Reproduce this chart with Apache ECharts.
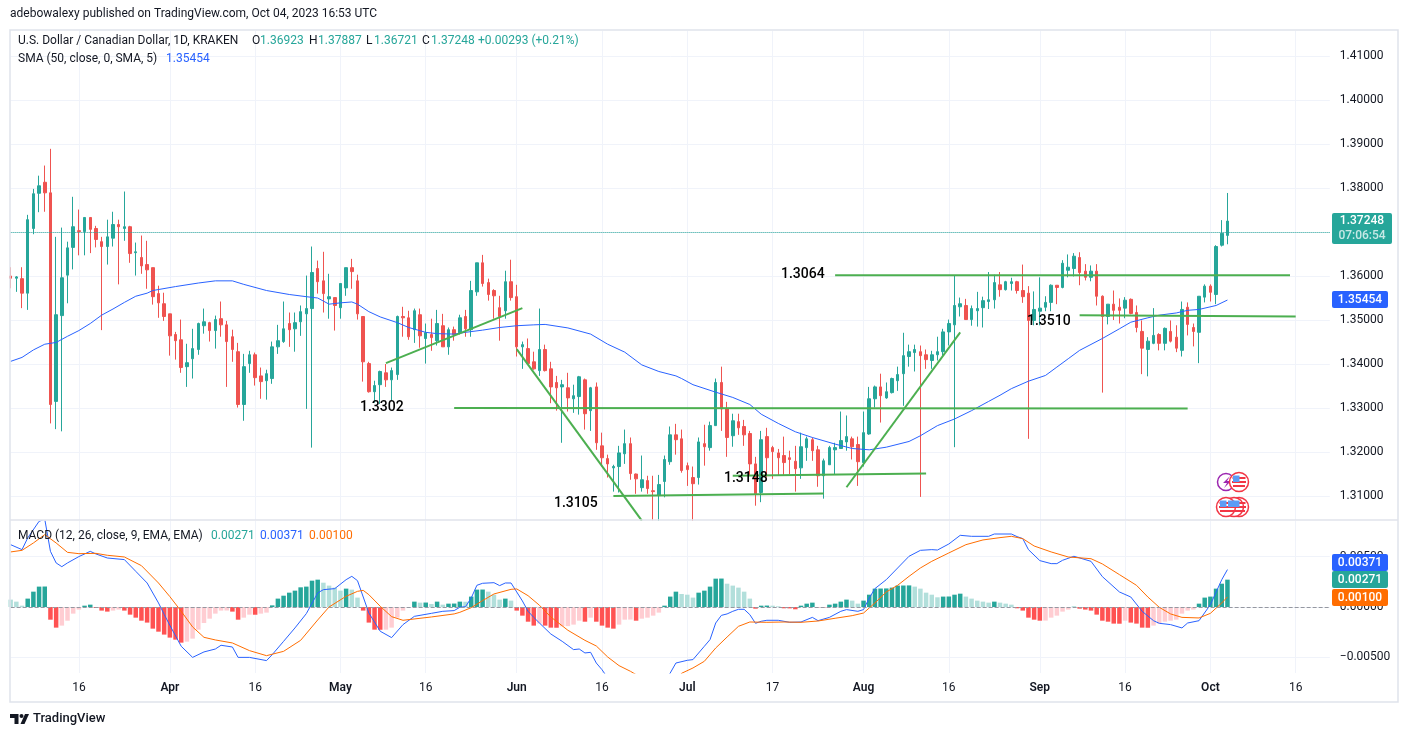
<!DOCTYPE html>
<html>
<head>
<meta charset="utf-8">
<title>USD/CAD</title>
<script src="https://cdn.jsdelivr.net/npm/echarts@6/dist/echarts.min.js"></script>
<style>
  html, body { margin: 0; padding: 0; background: #fff; }
  #myChart { width: 1408px; height: 737px; }
</style>
</head>
<body>
<div id="myChart"></div>
<script>
// daily candles
const opens = [
  1.36, 1.3595, 1.3594, 1.3561, 1.3708, 1.3788, 1.3813, 1.3789, 1.3315, 1.351,
  1.3602, 1.3665, 1.3703, 1.3701, 1.3733, 1.3708, 1.3678, 1.3667, 1.3686, 1.3717,
  1.3708, 1.3712, 1.3653, 1.3642, 1.3626, 1.3619, 1.356, 1.3537, 1.3514, 1.3467,
  1.3455, 1.3394, 1.3412, 1.3433, 1.3487, 1.3494, 1.3476, 1.3503, 1.3489, 1.3462,
  1.3428, 1.3308, 1.3401, 1.3421, 1.3373, 1.3362, 1.3367, 1.3439, 1.3451, 1.3492,
  1.348, 1.3496, 1.3514, 1.3526, 1.3617, 1.3589, 1.3548, 1.3551, 1.3528, 1.3573,
  1.3619, 1.3589, 1.3508, 1.3401, 1.3337, 1.3353, 1.338, 1.3364, 1.3376, 1.3508,
  1.3505, 1.3478, 1.3512, 1.3458, 1.3467, 1.3453, 1.3487, 1.3439, 1.3478, 1.3471,
  1.3508, 1.3478, 1.3564, 1.363, 1.3585, 1.3567, 1.3528, 1.3521, 1.3587, 1.3553,
  1.3439, 1.3435, 1.3405, 1.3385, 1.3433, 1.3389, 1.3358, 1.3348, 1.3346, 1.3321,
  1.3326, 1.3364, 1.3294, 1.3348, 1.3214, 1.3185, 1.3164, 1.3167, 1.3196, 1.3219,
  1.315, 1.3119, 1.3135, 1.3112, 1.3101, 1.3133, 1.3178, 1.3239, 1.323, 1.3169,
  1.3142, 1.3142, 1.3219, 1.321, 1.326, 1.3358, 1.3298, 1.3237, 1.3269, 1.3258,
  1.3242, 1.3173, 1.3108, 1.3235, 1.321, 1.3198, 1.3192, 1.3187, 1.3179, 1.3164,
  1.321, 1.3228, 1.3205, 1.3146, 1.3171, 1.3205, 1.3208, 1.3223, 1.323, 1.3217,
  1.3176, 1.3241, 1.3321, 1.3348, 1.3323, 1.3335, 1.3362, 1.3378, 1.3417, 1.3426,
  1.3428, 1.3421, 1.3408, 1.3421, 1.3428, 1.3473, 1.3489, 1.353, 1.3533, 1.3501,
  1.3521, 1.3528, 1.3542, 1.3546, 1.358, 1.3569, 1.3583, 1.3587, 1.3567, 1.3561,
  1.3499, 1.352, 1.3529, 1.354, 1.3579, 1.3574, 1.3613, 1.3617, 1.3642, 1.3611,
  1.3597, 1.3611, 1.3554, 1.3508, 1.3536, 1.3529, 1.3527, 1.3547, 1.3517, 1.3474,
  1.3433, 1.3447, 1.3467, 1.3447, 1.3474, 1.3461, 1.3431, 1.3529, 1.3483, 1.3472,
  1.3552, 1.3577, 1.3558, 1.367, 1.36923
];
const closes = [
  1.3595, 1.3598, 1.3561, 1.3728, 1.3787, 1.3805, 1.3789, 1.3308, 1.3512, 1.3596,
  1.3664, 1.3712, 1.3701, 1.3733, 1.3706, 1.3683, 1.3667, 1.3689, 1.3717, 1.3712,
  1.3712, 1.3651, 1.3655, 1.3623, 1.3614, 1.3553, 1.3539, 1.3508, 1.3464, 1.3453,
  1.3392, 1.3403, 1.3435, 1.3492, 1.3496, 1.3476, 1.3501, 1.3489, 1.3451, 1.3433,
  1.3308, 1.3394, 1.3421, 1.3369, 1.336, 1.3378, 1.3439, 1.3453, 1.348, 1.3478,
  1.3494, 1.3519, 1.3526, 1.3608, 1.3587, 1.356, 1.3553, 1.3533, 1.3583, 1.3619,
  1.361, 1.3514, 1.3405, 1.3337, 1.3351, 1.3383, 1.3364, 1.3385, 1.3508, 1.3505,
  1.3462, 1.3521, 1.3464, 1.3471, 1.346, 1.3492, 1.3439, 1.3478, 1.3467, 1.3505,
  1.348, 1.3567, 1.363, 1.3583, 1.3558, 1.3555, 1.3508, 1.3587, 1.3551, 1.3439,
  1.3444, 1.3401, 1.3389, 1.3433, 1.3385, 1.3348, 1.3346, 1.3353, 1.3323, 1.3328,
  1.3371, 1.3287, 1.3346, 1.3221, 1.3187, 1.3173, 1.3167, 1.3198, 1.3219, 1.3151,
  1.3139, 1.3137, 1.3117, 1.311, 1.3126, 1.3183, 1.3239, 1.3228, 1.3158, 1.316,
  1.3128, 1.3223, 1.3212, 1.326, 1.3358, 1.3298, 1.3233, 1.3271, 1.3255, 1.3239,
  1.3173, 1.3105, 1.3228, 1.3187, 1.3201, 1.3187, 1.3176, 1.3183, 1.3162, 1.3212,
  1.323, 1.3203, 1.3146, 1.318, 1.321, 1.321, 1.3226, 1.3235, 1.3212, 1.3178,
  1.3244, 1.3321, 1.3348, 1.3328, 1.3337, 1.3367, 1.3376, 1.3419, 1.3428, 1.3433,
  1.3419, 1.341, 1.3421, 1.3428, 1.3473, 1.3492, 1.3533, 1.3537, 1.3501, 1.3526,
  1.3526, 1.3544, 1.3546, 1.3585, 1.3569, 1.3587, 1.3587, 1.3567, 1.3553, 1.3499,
  1.3524, 1.3527, 1.354, 1.3579, 1.3574, 1.3629, 1.362, 1.3645, 1.3608, 1.3597,
  1.3611, 1.3554, 1.3508, 1.3536, 1.3522, 1.3522, 1.3545, 1.3515, 1.3483, 1.3436,
  1.3452, 1.3465, 1.3447, 1.3481, 1.3452, 1.3436, 1.3524, 1.349, 1.3474, 1.3554,
  1.3577, 1.3563, 1.3667, 1.3697, 1.37248
];
const lows = [
  1.3572, 1.3564, 1.3527, 1.3523, 1.3695, 1.3745, 1.3746, 1.3265, 1.3252, 1.3247,
  1.3538, 1.3615, 1.3647, 1.3647, 1.3652, 1.3665, 1.3477, 1.3626, 1.3667, 1.3581,
  1.368, 1.363, 1.3601, 1.3605, 1.3571, 1.3535, 1.3505, 1.3498, 1.3419, 1.341,
  1.338, 1.3348, 1.3367, 1.3421, 1.3469, 1.3451, 1.3435, 1.3462, 1.3348, 1.3405,
  1.3301, 1.3271, 1.338, 1.3351, 1.3321, 1.3319, 1.3355, 1.3423, 1.3448, 1.3439,
  1.3428, 1.3464, 1.3298, 1.321, 1.356, 1.3517, 1.3503, 1.3476, 1.3503, 1.3555,
  1.3571, 1.3501, 1.336, 1.3335, 1.3312, 1.3309, 1.3348, 1.3317, 1.3364, 1.3462,
  1.3455, 1.3448, 1.3437, 1.3401, 1.343, 1.3442, 1.3439, 1.3421, 1.3453, 1.3467,
  1.3462, 1.3462, 1.3555, 1.3576, 1.3544, 1.3503, 1.3453, 1.3503, 1.3544, 1.3417,
  1.3389, 1.3401, 1.3387, 1.3373, 1.3383, 1.3311, 1.3294, 1.3221, 1.3292, 1.3289,
  1.3285, 1.3251, 1.3248, 1.3205, 1.3167, 1.3142, 1.311, 1.3108, 1.3173, 1.3137,
  1.3105, 1.311, 1.3105, 1.3045, 1.3044, 1.3097, 1.3171, 1.3194, 1.3153, 1.3123,
  1.3044, 1.3126, 1.3169, 1.3203, 1.326, 1.3248, 1.3189, 1.3212, 1.3239, 1.3214,
  1.3146, 1.3078, 1.3086, 1.3142, 1.3139, 1.3146, 1.3148, 1.315, 1.311, 1.3139,
  1.318, 1.318, 1.3121, 1.3094, 1.3171, 1.315, 1.3208, 1.3203, 1.3183, 1.3123,
  1.3167, 1.3239, 1.3301, 1.3267, 1.3321, 1.3333, 1.3339, 1.3305, 1.3394, 1.3383,
  1.3098, 1.3389, 1.3389, 1.3408, 1.3419, 1.3442, 1.3211, 1.3508, 1.3501, 1.3487,
  1.3485, 1.3483, 1.3525, 1.3526, 1.3553, 1.3567, 1.3567, 1.356, 1.3539, 1.323,
  1.3488, 1.3488, 1.352, 1.352, 1.3536, 1.3572, 1.3597, 1.3599, 1.3579, 1.359,
  1.3588, 1.3533, 1.3335, 1.349, 1.35, 1.3492, 1.3504, 1.3513, 1.3472, 1.3377,
  1.3372, 1.3445, 1.3431, 1.3431, 1.3449, 1.3427, 1.3417, 1.3465, 1.344, 1.3402,
  1.354, 1.3542, 1.3536, 1.3667, 1.36721
];
const highs = [
  1.362, 1.36, 1.362, 1.3739, 1.3798, 1.3828, 1.3851, 1.3889, 1.3689, 1.371,
  1.3678, 1.378, 1.3751, 1.3733, 1.3733, 1.3714, 1.3689, 1.3728, 1.3746, 1.3728,
  1.3792, 1.3714, 1.3676, 1.3692, 1.368, 1.3619, 1.3578, 1.3562, 1.3514, 1.3473,
  1.3501, 1.3446, 1.348, 1.3494, 1.3526, 1.3496, 1.351, 1.3542, 1.3498, 1.3478,
  1.3448, 1.3423, 1.343, 1.3426, 1.3392, 1.3387, 1.3451, 1.3489, 1.3542, 1.3517,
  1.3517, 1.3533, 1.3601, 1.3667, 1.3635, 1.3655, 1.3605, 1.3551, 1.3583, 1.3619,
  1.3639, 1.3603, 1.3508, 1.3405, 1.3362, 1.3385, 1.34, 1.3392, 1.351, 1.353,
  1.3521, 1.3526, 1.3526, 1.3492, 1.3503, 1.3523, 1.3514, 1.3483, 1.3485, 1.3512,
  1.3523, 1.3589, 1.363, 1.3648, 1.3594, 1.357, 1.3555, 1.3612, 1.3637, 1.358,
  1.3451, 1.3458, 1.3428, 1.3526, 1.3444, 1.3405, 1.3373, 1.3364, 1.338, 1.3353,
  1.3373, 1.3367, 1.3348, 1.3358, 1.3244, 1.3194, 1.3171, 1.3214, 1.3251, 1.3233,
  1.3151, 1.3192, 1.3146, 1.3146, 1.3148, 1.3192, 1.3258, 1.3264, 1.3251, 1.3176,
  1.3167, 1.3233, 1.3262, 1.3269, 1.3367, 1.3394, 1.3314, 1.3287, 1.3287, 1.3273,
  1.3248, 1.3189, 1.3248, 1.3255, 1.3214, 1.3207, 1.3235, 1.3203, 1.3214, 1.3244,
  1.3235, 1.3233, 1.3214, 1.3185, 1.3214, 1.3221, 1.3292, 1.3283, 1.3235, 1.3235,
  1.3292, 1.3348, 1.3351, 1.3378, 1.3358, 1.3369, 1.3394, 1.3471, 1.3444, 1.3444,
  1.3442, 1.3433, 1.343, 1.3462, 1.348, 1.3501, 1.36, 1.3551, 1.3548, 1.3533,
  1.3564, 1.3553, 1.3609, 1.3603, 1.3609, 1.3589, 1.3596, 1.3589, 1.3626, 1.3577,
  1.3565, 1.3597, 1.3554, 1.3581, 1.3579, 1.3636, 1.3649, 1.3652, 1.3654, 1.3627,
  1.3624, 1.3627, 1.3556, 1.3536, 1.3567, 1.3549, 1.3552, 1.3549, 1.3533, 1.3499,
  1.3461, 1.3527, 1.347, 1.3483, 1.3499, 1.3488, 1.3542, 1.354, 1.3492, 1.3554,
  1.3581, 1.3581, 1.367, 1.3727, 1.37887
];

// [bar index, value] points
const smaPoints = [
  [0,1.3406],[2,1.3415],[4,1.3432],[6,1.3445],[8,1.3449],[10,1.3463],[12,1.3476],[14,1.3492],[16,1.3511],[18,1.3525],
  [20,1.354],[22,1.3554],[24,1.3561],[25,1.3567],[29,1.3576],[33,1.3584],[36,1.3589],[39,1.3589],[41,1.3581],[45,1.3567],
  [49,1.3558],[52,1.3553],[54,1.355],[56,1.3536],[58,1.3539],[60,1.3541],[61,1.3536],[63,1.3519],[65,1.3507],[68,1.3494],
  [70,1.3483],[73,1.3472],[75,1.3469],[78,1.3468],[80,1.3472],[83,1.3477],[86,1.3483],[89,1.3487],[92,1.3489],[94,1.349],
  [98,1.3482],[102,1.3468],[105,1.3445],[108,1.3427],[111,1.3398],[114,1.3383],[117,1.3373],[118,1.3367],[120,1.3353],[124,1.3336],
  [127,1.3324],[130,1.3308],[132,1.3286],[135,1.3265],[138,1.3246],[141,1.3233],[145,1.3218],[148,1.3208],[151,1.3205],[154,1.3211],
  [158,1.3224],[160,1.3237],[163,1.326],[166,1.3275],[169,1.3294],[172,1.3315],[174,1.3329],[176,1.3344],[179,1.3361],[182,1.3374],
  [184,1.3393],[186,1.3412],[188,1.3431],[192,1.3458],[195,1.348],[197,1.3495],[200,1.3505],[202,1.3511],[205,1.3516],[207,1.3522],
  [209,1.3524],[212,1.3533],[214,1.35454]
];

const macdHist = [
  0.00073, 0.00053, 0.00013, 0.00083, 0.00152, 0.00202, 0.00203, -0.00126, -0.00205, -0.00185,
  -0.00136, -0.00066, -0.00026, 0.00013, 0.00023, -0.0001, -0.00036, -0.00046, -0.00036, -0.00026,
  -0.00036, -0.00076, -0.00106, -0.00136, -0.00155, -0.00215, -0.00245, -0.00274, -0.00304, -0.00324,
  -0.00354, -0.00344, -0.00314, -0.00225, -0.00159, -0.00116, -0.00066, -0.00036, -0.00035, -0.00046,
  -0.00126, -0.00106, -0.00076, -0.00077, -0.00066, -0.00056, 0.00016, 0.00083, 0.00112, 0.00142,
  0.00162, 0.00195, 0.00202, 0.00261, 0.00271, 0.00241, 0.00212, 0.00192, 0.00162, 0.00182,
  0.00172, 0.00093, -0.00036, -0.00155, -0.00225, -0.00226, -0.00225, -0.00205, -0.00106, -0.00036,
  -0.00003, 0.00053, 0.00043, 0.00044, 0.0003, 0.00053, 0.00023, 0.00033, 0.00034, 0.00053,
  0.00052, 0.00103, 0.00172, 0.00173, 0.00152, 0.00122, 0.00073, 0.00083, 0.00063, -0.00036,
  -0.00086, -0.00146, -0.00185, -0.00165, -0.00185, -0.00205, -0.00206, -0.00192, -0.0019, -0.00175,
  -0.00136, -0.00146, -0.00106, -0.00146, -0.00185, -0.00205, -0.00215, -0.00175, -0.00126, -0.00125,
  -0.00136, -0.00116, -0.00106, -0.00086, -0.00056, 0.00013, 0.00103, 0.00152, 0.00129, 0.00122,
  0.00093, 0.00142, 0.00162, 0.00202, 0.00281, 0.00282, 0.00231, 0.00212, 0.00192, 0.00152,
  0.00083, -0.00017, 0.00013, 0.00014, 0.00013, 0.00007, -0.00013, -0.00014, -0.00023, 0.00013,
  0.00033, 0.00043, -0.00003, -0.00004, 0.00023, 0.00033, 0.00053, 0.00073, 0.00063, 0.00033,
  0.00063, 0.00122, 0.00182, 0.00183, 0.00184, 0.00192, 0.00212, 0.00213, 0.00214, 0.00202,
  0.00182, 0.00142, 0.00122, 0.00096, 0.00103, 0.00104, 0.00122, 0.00132, 0.00103, 0.00083,
  0.00063, 0.00053, 0.00043, 0.00053, 0.00043, 0.00033, 0.00023, -0.00013, -0.00036, -0.00106,
  -0.00126, -0.00136, -0.00135, -0.00106, -0.00086, -0.00046, -0.00026, 0.00003, -0.00017, -0.00026,
  -0.00036, -0.00076, -0.00136, -0.00146, -0.00165, -0.00166, -0.00136, -0.00155, -0.00165, -0.00205,
  -0.00206, -0.00185, -0.00165, -0.00146, -0.00136, -0.00126, -0.00066, -0.00036, -0.00026, 0.00033,
  0.00093, 0.00103, 0.00182, 0.00231, 0.00271
];

const macdPoints = [
  [0,0.00618],[2,0.00569],[3,0.00685],[5,0.0085],[6,0.0087],[7,0.00552],[8,0.00437],[9,0.004],[10,0.00437],[12,0.005],
  [14,0.00552],[15,0.00526],[17,0.00486],[20,0.0047],[22,0.00354],[24,0.00238],[26,0.0004],[27,-0.00073],[28,-0.00182],[30,-0.0039],
  [32,-0.005],[34,-0.00446],[36,-0.00417],[37,-0.0038],[39,-0.00397],[40,-0.005],[42,-0.005],[45,-0.00532],[46,-0.00473],[48,-0.00341],
  [50,-0.00208],[52,-0.00066],[54,0.00139],[55,0.00172],[57,0.00182],[59,0.00271],[60,0.00304],[61,0.00261],[63,-0.0006],[65,-0.00241],
  [67,-0.00304],[69,-0.00175],[71,-0.00093],[74,-0.00063],[76,-0.00043],[78,-0.00036],[79,-0.00003],[80,0.00003],[81,0.00089],[82,0.00215],
  [83,0.00235],[85,0.00241],[86,0.00212],[87,0.00238],[88,0.00238],[89,0.00149],[90,0.0006],[91,-0.00043],[92,-0.00103],[93,-0.00159],
  [95,-0.00268],[97,-0.00341],[99,-0.00423],[100,-0.00417],[101,-0.00456],[102,-0.0045],[103,-0.00556],[104,-0.00622],[105,-0.00704],[107,-0.0082],
  [109,-0.0093],[111,-0.0097],[113,-0.0091],[116,-0.00655],[117,-0.00556],[119,-0.00529],[120,-0.00522],[122,-0.0039],[123,-0.00324],[124,-0.00159],
  [125,-0.00083],[126,-0.00069],[127,-0.00043],[128,-0.00023],[129,-0.00023],[130,-0.00076],[131,-0.00162],[132,-0.00142],[133,-0.00132],[135,-0.00132],
  [137,-0.00152],[139,-0.00149],[141,-0.00103],[142,-0.00136],[144,-0.00103],[146,-0.00043],[147,-0.00026],[149,-0.00043],[150,-0.00026],[151,0.00089],
  [152,0.00182],[154,0.00271],[156,0.00387],[158,0.00503],[160,0.00562],[162,0.00569],[163,0.00565],[165,0.00625],[167,0.00711],[169,0.00701],
  [172,0.00701],[173,0.00724],[176,0.00724],[177,0.00698],[178,0.00678],[179,0.00569],[181,0.0046],[183,0.0043],[184,0.0043],[185,0.00463],
  [187,0.00503],[190,0.00453],[192,0.00301],[195,0.00149],[197,0.00099],[199,-0.00043],[201,-0.00136],[202,-0.00162],[204,-0.00175],[206,-0.00208],
  [207,-0.00159],[209,-0.00136],[211,0.00023],[213,0.00271],[214,0.00371]
];

const signalPoints = [
  [0,0.00546],[2,0.00562],[4,0.00635],[6,0.00718],[8,0.00635],[10,0.00542],[12,0.00529],[15,0.00532],[17,0.00513],[20,0.00496],
  [23,0.0041],[26,0.00238],[28,0.00103],[30,-0.00043],[32,-0.00198],[34,-0.00301],[36,-0.00327],[39,-0.00357],[42,-0.00433],[45,-0.00483],
  [48,-0.0044],[51,-0.00331],[54,-0.00129],[56,0],[59,0.00106],[61,0.00155],[62,0.00165],[63,0.00122],[65,0.00007],[67,-0.00096],
  [69,-0.00132],[74,-0.00099],[78,-0.00069],[79,-0.00053],[81,-0.00007],[83,0.00063],[85,0.00129],[88,0.00175],[89,0.00179],[91,0.00112],
  [93,0.00017],[95,-0.00099],[98,-0.00231],[101,-0.00331],[103,-0.00387],[105,-0.00496],[107,-0.00582],[109,-0.00638],[110,-0.00671],[112,-0.0075],
  [114,-0.0079],[116,-0.0078],[118,-0.00658],[120,-0.00605],[122,-0.00539],[124,-0.00407],[126,-0.00298],[128,-0.00192],[130,-0.00149],[133,-0.00152],
  [136,-0.00149],[139,-0.00152],[142,-0.00139],[145,-0.00112],[148,-0.00086],[150,-0.0006],[152,0.0004],[154,0.00149],[156,0.00215],[158,0.00304],
  [160,0.00387],[162,0.00453],[165,0.00536],[168,0.00618],[171,0.00665],[174,0.00688],[176,0.00701],[178,0.00678],[180,0.00605],[183,0.00546],
  [186,0.00496],[190,0.00479],[192,0.00427],[195,0.00321],[198,0.00215],[200,0.00099],[202,-0.00003],[204,-0.00069],[206,-0.00103],[209,-0.00109],
  [211,-0.00063],[213,0.0004],[214,0.001]
];

// hand drawn green lines, [bar index, price] at both ends
const trendLines = [
  [[145,1.36015],[225,1.36015]],
  [[188,1.3511],[226,1.3508]],
  [[78,1.33],[207,1.3299]],
  [[66,1.3402],[90,1.3527]],
  [[89,1.3434],[111,1.3044]],
  [[106,1.31],[143,1.3106]],
  [[127,1.3146],[161,1.3151]],
  [[147,1.312],[167,1.3472]]
];

const priceTicks = [1.31, 1.32, 1.33, 1.34, 1.35, 1.36, 1.37, 1.38, 1.39, 1.40, 1.41].filter(v => v !== 1.37);
const macdTicks = [-0.005, 0, 0.005];
const tickIndexes = [12, 28, 43, 58, 73, 89, 104, 119, 134, 150, 165, 181, 196, 211, 226];
const tickLabels = ['16', 'Apr', '16', 'May', '16', 'Jun', '16', 'Jul', '17', 'Aug', '16', 'Sep', '16', 'Oct', '16'];
const barCount = 233; // room on the right of the last candle

const UP = '#26a69a', DOWN = '#ef5350', BLUE = '#2962ff', ORANGE = '#ff6d00', INK = '#131722';
const GREEN = '#4caf50', FRAME = '#e0e3eb', GRID = '#f0f3fa';
const FONT = 'Roboto';

const categories = Array.from({ length: barCount }, (_, i) => String(i));
const isTick = i => tickIndexes.indexOf(i) >= 0;
const candles = opens.map((o, i) => [o, closes[i], lows[i], highs[i]]);

function histColor(params) {
  const cur = macdHist[params.dataIndex];
  const prev = params.dataIndex > 0 ? macdHist[params.dataIndex - 1] : cur + 1;
  if (cur >= 0) return prev < cur ? UP : '#b2dfdb';
  return prev > cur ? '#ff5252' : '#ffcdd2';
}

function txt(x, y, text, fill, extra) {
  return {
    type: 'text', z: 100, silent: true,
    style: Object.assign({ x, y, text, fill, font: '12px ' + FONT, textVerticalAlign: 'middle' }, extra || {})
  };
}

function tag(x, y, w, h, fill) {
  return { type: 'rect', z: 99, silent: true, shape: { x, y, width: w, height: h, r: 2 }, style: { fill } };
}

function flag(cx, cy, ring) {
  return {
    type: 'group', x: cx, y: cy, z: 95, silent: true,
    children: [
      { type: 'circle', z: 95, shape: { r: 9.5 }, style: { fill: '#fff', stroke: ring, lineWidth: 1.5 } },
      { type: 'rect', z: 96, shape: { x: -6.5, y: -5, width: 13, height: 2 }, style: { fill: '#f23645' } },
      { type: 'rect', z: 96, shape: { x: -7, y: -1, width: 14, height: 2 }, style: { fill: '#f23645' } },
      { type: 'rect', z: 96, shape: { x: -6, y: 3, width: 12, height: 2 }, style: { fill: '#f23645' } },
      { type: 'rect', z: 97, shape: { x: -6, y: -6.5, width: 6.5, height: 6.5 }, style: { fill: '#5b9cf6' } }
    ]
  };
}

function xAxisFor(gridIndex, withLabels) {
  return {
    type: 'category', gridIndex, data: categories, boundaryGap: false,
    axisLine: { show: false, onZero: false }, axisTick: { show: false },
    splitLine: { show: true, interval: i => isTick(i), lineStyle: { color: GRID, width: 1 } },
    axisLabel: {
      show: withLabels, margin: 9, color: INK, fontFamily: FONT, fontSize: 12,
      interval: i => isTick(i),
      formatter: (v, i) => {
        const label = tickLabels[tickIndexes.indexOf(i)];
        return /\d/.test(label) ? label : '{m|' + label + '}';
      },
      rich: { m: { fontWeight: 600, fontFamily: FONT, fontSize: 12, color: INK } }
    }
  };
}

const chrome = [
  { type: 'rect', z: 90, silent: true, shape: { x: 10, y: 30, width: 1388, height: 672 }, style: { fill: 'none', stroke: FRAME, lineWidth: 1.5 } },
  { type: 'line', z: 90, silent: true, shape: { x1: 10, y1: 520, x2: 1398, y2: 520 }, style: { stroke: FRAME, lineWidth: 1.5 } },

  txt(10, 14, 'adebowalexy published on TradingView.com, Oct 04, 2023 16:53 UTC', INK),

  txt(18, 41, 'U.S. Dollar / Canadian Dollar, 1D, KRAKEN', INK),
  txt(252, 41, 'O', INK), txt(260, 41, '1.36923', UP),
  txt(309, 41, 'H', INK), txt(318, 41, '1.37887', UP),
  txt(366, 41, 'L', INK), txt(374, 41, '1.36721', UP),
  txt(422, 41, 'C', INK), txt(431, 41, '1.37248', UP),
  txt(478, 41, '+0.00293 (+0.21%)', UP),
  txt(18, 59, 'SMA (50, close, 0, SMA, 5)', INK),
  txt(166, 59, '1.35454', BLUE),

  txt(18, 536, 'MACD (12, 26, close, 9, EMA, EMA)', INK),
  txt(211, 536, '0.00271', UP),
  txt(260, 536, '0.00371', BLUE),
  txt(309, 536, '0.00100', ORANGE),

  txt(360, 407, '1.3302', '#000', { font: '500 14px ' + FONT }),
  txt(554, 503, '1.3105', '#000', { font: '500 14px ' + FONT }),
  txt(724, 478, '1.3148', '#000', { font: '500 14px ' + FONT }),
  txt(781, 274, '1.3064', '#000', { font: '500 14px ' + FONT }),
  txt(1027, 321, '1.3510', '#000', { font: '500 14px ' + FONT }),

  tag(1332, 213, 60, 31, UP),
  txt(1362, 221, '1.37248', '#fff', { textAlign: 'center', font: '500 12px ' + FONT }),
  txt(1362, 236, '07:06:54', 'rgba(255,255,255,0.75)', { textAlign: 'center', font: '500 12px ' + FONT }),
  tag(1332, 291, 56, 17, BLUE),
  txt(1360, 300, '1.35454', '#fff', { textAlign: 'center', font: '500 12px ' + FONT }),
  tag(1332, 554, 56, 17, BLUE),
  txt(1360, 563, '0.00371', '#fff', { textAlign: 'center', font: '500 12px ' + FONT }),
  tag(1332, 571, 56, 17, UP),
  txt(1360, 580, '0.00271', '#fff', { textAlign: 'center', font: '500 12px ' + FONT }),
  tag(1332, 589, 56, 17, ORANGE),
  txt(1360, 598, '0.00100', '#fff', { textAlign: 'center', font: '500 12px ' + FONT }),

  { type: 'circle', z: 93, silent: true, shape: { cx: 1226, cy: 482, r: 8.5 }, style: { fill: '#fff', stroke: '#9c27b0', lineWidth: 1.5 } },
  { type: 'polygon', z: 94, silent: true, shape: { points: [[1230, 476], [1223, 483], [1227, 483], [1224, 488], [1231, 481], [1227, 481]] }, style: { fill: '#9c27b0' } },
  flag(1239, 482, '#f23645'),
  flag(1239, 507, '#f23645'),
  flag(1234, 507, '#f23645'),
  flag(1226, 507, '#f23645'),

  { type: 'polygon', z: 100, silent: true, shape: { points: [[10, 714], [18.5, 714], [18.5, 724], [14.5, 724], [14.5, 718], [10, 718]] }, style: { fill: INK } },
  { type: 'circle', z: 100, silent: true, shape: { cx: 21.5, cy: 716, r: 2 }, style: { fill: INK } },
  { type: 'polygon', z: 100, silent: true, shape: { points: [[25, 714], [29, 714], [24.5, 724], [20.5, 724]] }, style: { fill: INK } },
  txt(33, 719, 'TradingView', INK, { font: '500 13px ' + FONT })
];

const option = {
  animation: false,
  backgroundColor: '#fff',
  textStyle: { fontFamily: FONT },
  grid: [
    { left: 10.65, width: 1319.15, top: 31, height: 489 },
    { left: 10.65, width: 1319.15, top: 521, height: 152 }
  ],
  xAxis: [xAxisFor(0, false), xAxisFor(1, true)],
  yAxis: [
    {
      type: 'value', gridIndex: 0, position: 'right', min: 1.30455, max: 1.41568, scale: true,
      axisLine: { show: false }, axisTick: { show: false, customValues: priceTicks.concat([1.37]) },
      splitLine: { lineStyle: { color: GRID, width: 1 } },
      axisLabel: {
        margin: 10, color: INK, fontFamily: FONT, fontSize: 12,
        customValues: priceTicks,
        formatter: v => v.toFixed(5)
      }
    },
    {
      type: 'value', gridIndex: 1, position: 'right', min: -0.00655, max: 0.00853,
      axisLine: { show: false }, axisTick: { show: false, customValues: macdTicks },
      splitLine: { lineStyle: { color: GRID, width: 1 } },
      axisLabel: {
        margin: 10, color: INK, fontFamily: FONT, fontSize: 12,
        customValues: macdTicks,
        formatter: v => (v < 0 ? '\u2212' : '') + Math.abs(v).toFixed(5)
      }
    }
  ],
  series: [
    {
      name: 'USD/CAD', type: 'candlestick', xAxisIndex: 0, yAxisIndex: 0,
      data: candles, barWidth: 3, silent: true,
      itemStyle: { color: UP, color0: DOWN, borderColor: UP, borderColor0: DOWN, borderWidth: 1 },
      markLine: {
        silent: true, symbol: 'none', label: { show: false },
        lineStyle: { color: UP, type: 'dotted', width: 1 },
        data: [{ yAxis: closes[closes.length - 1] }]
      }
    },
    {
      name: 'SMA', type: 'line', xAxisIndex: 0, yAxisIndex: 0, data: smaPoints,
      showSymbol: false, silent: true, lineStyle: { color: BLUE, width: 1 }, z: 4
    }
  ].concat(trendLines.map((pts, i) => ({
    name: 'trend' + i, type: 'line', xAxisIndex: 0, yAxisIndex: 0, data: pts,
    showSymbol: false, silent: true, lineStyle: { color: GREEN, width: 2 }, z: 5
  }))).concat([
    {
      name: 'Histogram', type: 'bar', xAxisIndex: 1, yAxisIndex: 1, data: macdHist,
      barWidth: 4.5, silent: true, itemStyle: { color: histColor },
      markLine: {
        silent: true, symbol: 'none', label: { show: false },
        lineStyle: { color: '#9598a1', type: 'dashed', width: 1 },
        data: [{ yAxis: 0 }]
      }
    },
    {
      name: 'MACD', type: 'line', xAxisIndex: 1, yAxisIndex: 1, data: macdPoints,
      showSymbol: false, silent: true, lineStyle: { color: BLUE, width: 1 }, z: 4
    },
    {
      name: 'Signal', type: 'line', xAxisIndex: 1, yAxisIndex: 1, data: signalPoints,
      showSymbol: false, silent: true, lineStyle: { color: ORANGE, width: 1 }, z: 4
    }
  ]),
  graphic: { elements: chrome }
};

const myChart = echarts.init(document.getElementById('myChart'));
myChart.setOption(option);
</script>
</body>
</html>
